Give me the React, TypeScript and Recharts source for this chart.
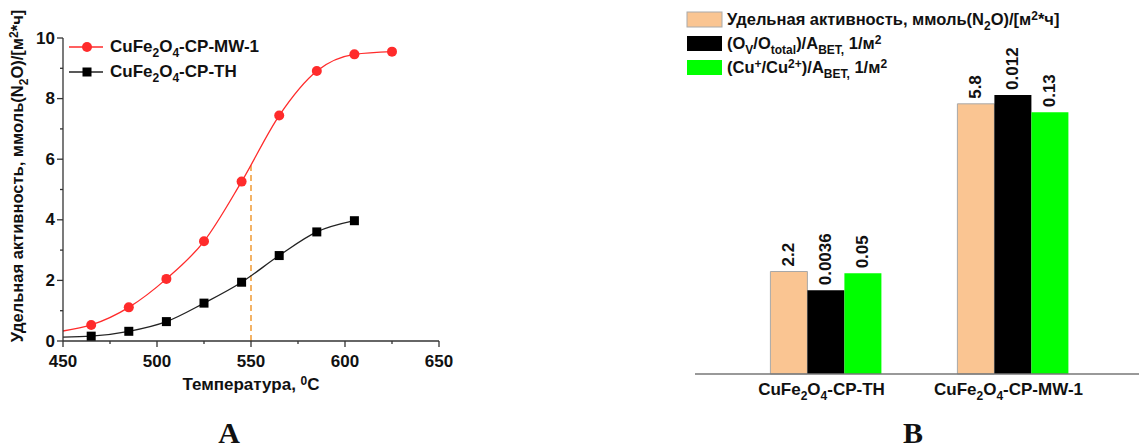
import React from "react";
import {
  LineChart,
  Line,
  XAxis,
  YAxis,
  ReferenceLine,
  BarChart,
  Bar,
  LabelList,
} from "recharts";

// panel A: activity vs temperature
const temperatures = [450, 465, 485, 505, 525, 545, 565, 585, 605, 625];
const mwActivity = [0.33, 0.53, 1.11, 2.05, 3.29, 5.26, 7.44, 8.91, 9.46, 9.55];
const thActivity = [0.13, 0.16, 0.32, 0.64, 1.25, 1.94, 2.82, 3.6, 3.97, null];
const xTicks = [450, 475, 500, 525, 550, 575, 600, 625, 650];
const yTicks = [0, 1, 2, 3, 4, 5, 6, 7, 8, 9, 10];

// panel B: per-catalyst values (each series on its own scale)
const catalysts = ["TH", "MW-1"];
const specActivity = [2.2, 5.8];
const ovRatio = [0.0036, 0.012];
const cuRatio = [0.05, 0.13];

const FONT = "'Liberation Sans', Arial, sans-serif";
const SERIF = "'Liberation Serif', 'Times New Roman', serif";
const RED = "#ff2b2b";
const PEACH = "#fac592";
const GREEN = "#00ff00";

type Part = string | [string, "sub" | "sup"];

// text with sub/superscripts as svg tspans (parent uses central baseline)
const rich = (parts: Part[], small: number) => {
  let shift = 0;
  return parts.map((p, i) => {
    const [t, k] = typeof p === "string" ? [p, undefined] : p;
    const target = k === "sub" ? 7 : k === "sup" ? -3 : 0;
    const dy = target - shift;
    shift = target;
    return (
      <tspan key={i} dy={dy} fontSize={k ? small : undefined}>
        {t}
      </tspan>
    );
  });
};

const catalystName = (suffix: string): Part[] => [
  "CuFe",
  ["2", "sub"],
  "O",
  ["4", "sub"],
  "-CP-" + suffix,
];

const activityUnit: Part[] = [
  "Удельная активность, ммоль(N",
  ["2", "sub"],
  "O)/[м",
  ["2", "sup"],
  "*ч]",
];

const lineData = temperatures.map((t, i) => ({
  t,
  mw: mwActivity[i],
  th: thActivity[i],
}));

const barData = catalysts.map((c, i) => ({
  name: c,
  act: specActivity[i],
  ov: ovRatio[i],
  cu: cuRatio[i],
}));

const YTick = (props: any) => {
  const { x, y, payload } = props;
  const major = payload.value % 2 === 0;
  return (
    <g>
      <line x1={x} x2={x - (major ? 6 : 3)} y1={y} y2={y} stroke="#333" strokeWidth={1.3} />
      {major && (
        <text x={x - 8} y={y} textAnchor="end" dominantBaseline="central" fontFamily={FONT} fontWeight="bold" fontSize={17} fill="#111">
          {payload.value}
        </text>
      )}
    </g>
  );
};

const XTick = (props: any) => {
  const { x, y, payload } = props;
  const major = payload.value % 50 === 0;
  return (
    <g>
      <line x1={x} x2={x} y1={y} y2={y + (major ? 6 : 3)} stroke="#333" strokeWidth={1.3} />
      {major && (
        <text x={x} y={y + 20} textAnchor="middle" dominantBaseline="central" fontFamily={FONT} fontWeight="bold" fontSize={17} fill="#111">
          {payload.value}
        </text>
      )}
    </g>
  );
};

const CatTick = (props: any) => {
  const { x, y, payload } = props;
  return (
    <text x={x - 5} y={y + 15} textAnchor="middle" dominantBaseline="central" fontFamily={FONT} fontWeight="bold" fontSize={17} fill="#111">
      {rich(catalystName(payload.value), 12)}
    </text>
  );
};

const redDot = (p: any) =>
  p.index === 0 ? <g key={p.key} /> : <circle key={p.key} cx={p.cx} cy={p.cy} r={5} fill={RED} />;
const blackDot = (p: any) =>
  p.index === 0 || p.value == null ? (
    <g key={p.key} />
  ) : (
    <rect key={p.key} x={p.cx - 4.5} y={p.cy - 4.5} width={9} height={9} fill="#000" />
  );

const barLabel = (p: any) => {
  const cx = p.x + p.width / 2;
  const top = p.y - 5;
  return (
    <text
      x={cx}
      y={top}
      transform={`rotate(-90 ${cx} ${top})`}
      textAnchor="start"
      dominantBaseline="central"
      fontFamily={FONT}
      fontWeight="bold"
      fontSize={17}
      fill="#111"
    >
      {String(p.value)}
    </text>
  );
};

export default function App() {
  const legendRows: { color: string; stroke?: string; parts: Part[] }[] = [
    { color: PEACH, stroke: "#aaa", parts: activityUnit },
    {
      color: "#000",
      parts: ["(O", ["V", "sub"], "/O", ["total", "sub"], ")/A", ["BET,", "sub"], " 1/м", ["2", "sup"]],
    },
    {
      color: GREEN,
      parts: ["(Cu", ["+", "sup"], "/Cu", ["2+", "sup"], ")/A", ["BET,", "sub"], " 1/м", ["2", "sup"]],
    },
  ];

  return (
    <div style={{ position: "absolute", left: 0, top: 0, width: 1139, height: 448, background: "#fff" }}>
      <div style={{ position: "absolute", left: 0, top: 0 }}>
        <LineChart width={460} height={448} data={lineData} margin={{ top: 38, right: 21, bottom: 67, left: 0 }}>
          <XAxis
            dataKey="t"
            type="number"
            domain={[450, 650]}
            ticks={xTicks}
            interval={0}
            tickSize={0}
            tickMargin={0}
            tickLine={false}
            tick={<XTick />}
            axisLine={{ stroke: "#333", strokeWidth: 1.3 }}
            height={40}
          />
          <YAxis
            type="number"
            domain={[0, 10]}
            ticks={yTicks}
            interval={0}
            tickSize={0}
            tickMargin={0}
            tickLine={false}
            tick={<YTick />}
            axisLine={{ stroke: "#333", strokeWidth: 1.3 }}
            width={63}
          />
          <ReferenceLine
            segment={[
              { x: 550, y: 0 },
              { x: 550, y: 5.8 },
            ]}
            stroke="#f0a040"
            strokeWidth={1.6}
            strokeDasharray="6 4"
          />
          <Line type="monotone" dataKey="mw" stroke={RED} strokeWidth={1.3} dot={redDot} isAnimationActive={false} />
          <Line type="monotone" dataKey="th" stroke="#222" strokeWidth={1.3} dot={blackDot} isAnimationActive={false} connectNulls={false} />
        </LineChart>
      </div>

      <div style={{ position: "absolute", left: 680, top: 0 }}>
        <BarChart width={459} height={448} data={barData} margin={{ top: 74, right: 0, bottom: 44, left: 15 }} barGap={0} barCategoryGap="20%">
          <XAxis
            dataKey="name"
            padding={{ left: 38, right: 32 }}
            tickLine={false}
            tickSize={0}
            tickMargin={0}
            tick={<CatTick />}
            axisLine={{ stroke: "#777", strokeWidth: 1.3 }}
            height={30}
          />
          <YAxis yAxisId="a" hide domain={[0, 6.44]} />
          <YAxis yAxisId="b" hide domain={[0, 0.0129]} />
          <YAxis yAxisId="c" hide domain={[0, 0.149]} />
          <Bar yAxisId="a" dataKey="act" fill={PEACH} stroke="#a8a8a8" strokeWidth={1} isAnimationActive={false}>
            <LabelList dataKey="act" content={barLabel} />
          </Bar>
          <Bar yAxisId="b" dataKey="ov" fill="#000" isAnimationActive={false}>
            <LabelList dataKey="ov" content={barLabel} />
          </Bar>
          <Bar yAxisId="c" dataKey="cu" fill={GREEN} isAnimationActive={false}>
            <LabelList dataKey="cu" content={barLabel} />
          </Bar>
        </BarChart>
      </div>

      <svg width={1139} height={448} style={{ position: "absolute", left: 0, top: 0, pointerEvents: "none" }}>
        {/* panel A legend */}
        <line x1={69} x2={103} y1={47} y2={47} stroke={RED} strokeWidth={1.3} />
        <circle cx={87} cy={47} r={5} fill={RED} />
        <line x1={69} x2={103} y1={72} y2={72} stroke="#222" strokeWidth={1.3} />
        <rect x={82.5} y={67.5} width={9} height={9} fill="#000" />
        <text x={110} y={46} dominantBaseline="central" fontFamily={FONT} fontWeight="bold" fontSize={17} fill="#111">
          {rich(catalystName("MW-1"), 12)}
        </text>
        <text x={110} y={71} dominantBaseline="central" fontFamily={FONT} fontWeight="bold" fontSize={17} fill="#111">
          {rich(catalystName("TH"), 12)}
        </text>

        <text
          x={17}
          y={176}
          transform="rotate(-90 17 176)"
          textAnchor="middle"
          dominantBaseline="central"
          fontFamily={FONT}
          fontWeight="bold"
          fontSize={16.5}
          fill="#111"
        >
          {rich(activityUnit, 12)}
        </text>
        <text x={251} y={384} textAnchor="middle" dominantBaseline="central" fontFamily={FONT} fontWeight="bold" fontSize={17} fill="#111">
          {rich(["Температура, ", ["0", "sup"], "C"], 12)}
        </text>

        {/* panel B legend */}
        {legendRows.map((r, i) => (
          <g key={i}>
            <rect x={687} y={12 + i * 24} width={35} height={15} fill={r.color} stroke={r.stroke ?? "none"} />
            <text x={727} y={19 + i * 24} dominantBaseline="central" fontFamily={FONT} fontWeight="bold" fontSize={16.5} fill="#111">
              {rich(r.parts, 12)}
            </text>
          </g>
        ))}

        <text x={229} y={432} textAnchor="middle" dominantBaseline="central" fontFamily={SERIF} fontWeight="bold" fontSize={30} fill="#111">
          A
        </text>
        <text x={913} y={432} textAnchor="middle" dominantBaseline="central" fontFamily={SERIF} fontWeight="bold" fontSize={30} fill="#111">
          B
        </text>
      </svg>
    </div>
  );
}
